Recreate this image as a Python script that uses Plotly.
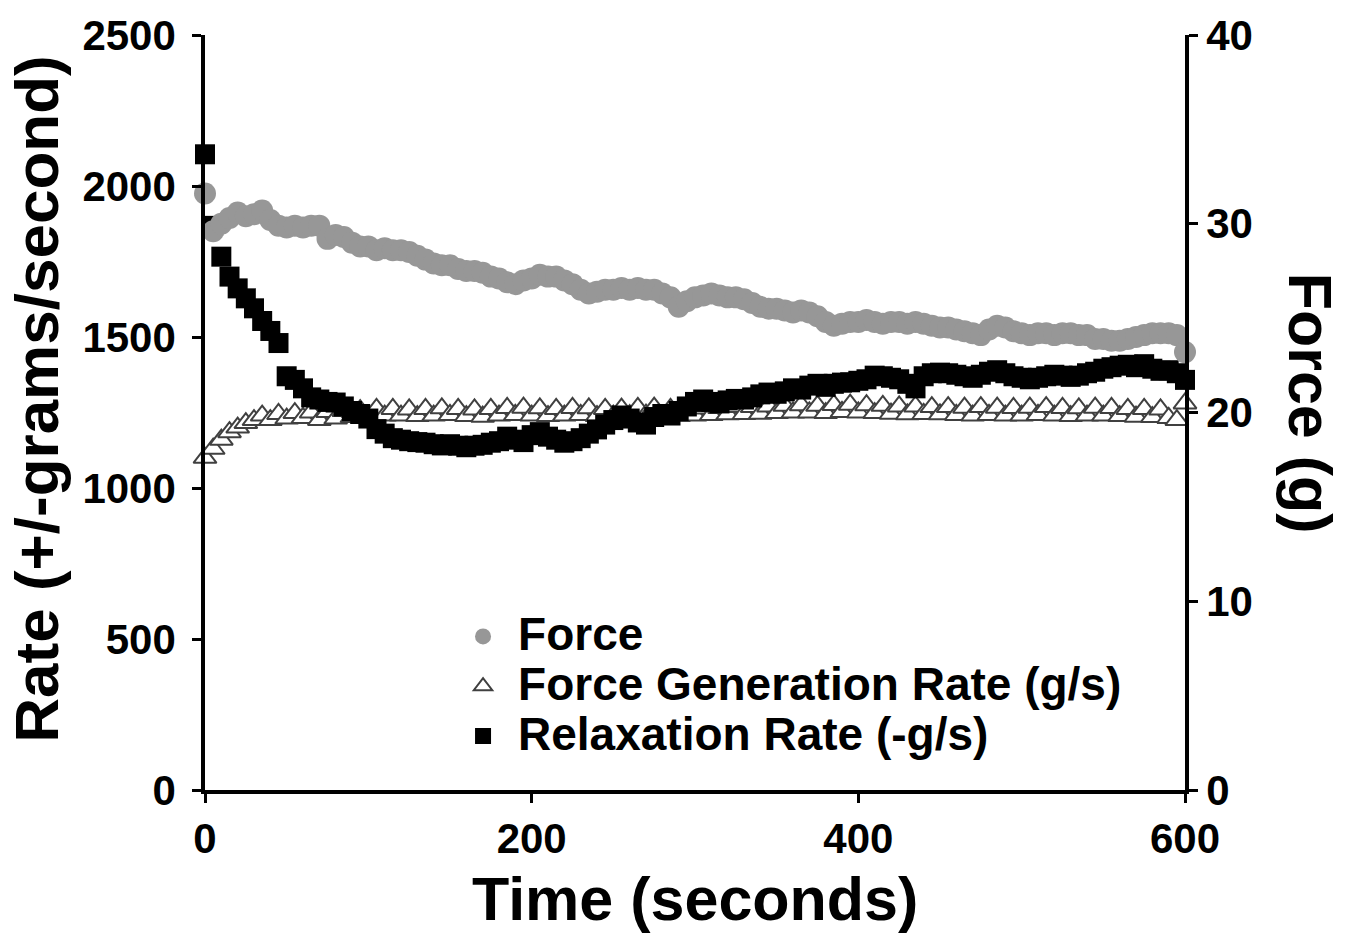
import plotly.graph_objects as go

# ---------------- data ----------------
time_s = list(range(0, 601, 5))

force_g = [
    31.6, 29.6, 30.0, 30.3, 30.6, 30.4, 30.5, 30.7, 30.2, 29.9,
    29.8, 29.9, 29.8, 29.9, 29.9, 29.2, 29.4, 29.3, 29.0, 28.8,
    28.8, 28.6, 28.7, 28.6, 28.6, 28.5, 28.3, 28.1, 27.9, 27.8,
    27.8, 27.6, 27.5, 27.5, 27.4, 27.2, 27.1, 26.9, 26.8, 27.0,
    27.1, 27.3, 27.2, 27.2, 27.0, 26.8, 26.5, 26.3, 26.4, 26.5,
    26.5, 26.6, 26.5, 26.6, 26.5, 26.5, 26.3, 26.1, 25.6, 25.9,
    26.1, 26.2, 26.3, 26.2, 26.1, 26.1, 26.0, 25.8, 25.6, 25.5,
    25.5, 25.4, 25.3, 25.4, 25.3, 25.1, 24.8, 24.6, 24.7, 24.8,
    24.8, 24.9, 24.8, 24.7, 24.8, 24.8, 24.7, 24.8, 24.7, 24.6,
    24.5, 24.5, 24.4, 24.3, 24.2, 24.1, 24.4, 24.6, 24.5, 24.3,
    24.2, 24.1, 24.2, 24.2, 24.1, 24.2, 24.2, 24.1, 24.1, 23.9,
    23.9, 23.8, 23.8, 23.9, 24.0, 24.1, 24.2, 24.2, 24.2, 24.1,
    23.2,
]

force_gen_rate = [
    1100, 1130, 1160, 1185, 1200, 1215, 1225, 1240, 1225, 1245,
    1230, 1248, 1232, 1250, 1225, 1252, 1230, 1255, 1235, 1258,
    1238, 1262, 1240, 1262, 1240, 1260, 1238, 1262, 1240, 1264,
    1242, 1262, 1238, 1260, 1236, 1262, 1240, 1265, 1242, 1266,
    1240, 1264, 1238, 1262, 1240, 1265, 1242, 1264, 1238, 1262,
    1240, 1263, 1241, 1265, 1243, 1266, 1240, 1262, 1238, 1260,
    1240, 1263, 1242, 1265, 1244, 1268, 1245, 1268, 1246, 1270,
    1248, 1272, 1250, 1274, 1250, 1272, 1248, 1275, 1252, 1276,
    1250, 1274, 1248, 1272, 1246, 1270, 1244, 1270, 1245, 1268,
    1244, 1268, 1242, 1266, 1240, 1268, 1242, 1266, 1240, 1265,
    1240, 1266, 1242, 1268, 1240, 1265, 1238, 1264, 1240, 1266,
    1240, 1265, 1238, 1262, 1236, 1262, 1235, 1260, 1232, 1225,
    1280,
]

relaxation_rate = [
    2105, 1868, 1766, 1700, 1661, 1628, 1595, 1553, 1520, 1480,
    1370, 1358, 1330, 1300, 1293, 1285, 1283, 1270, 1255, 1245,
    1230, 1195, 1180, 1165, 1160, 1155, 1152, 1150, 1145, 1141,
    1145, 1140, 1135, 1140, 1143, 1150, 1155, 1170, 1160, 1152,
    1175, 1185, 1170, 1160, 1150, 1155, 1165, 1180, 1194, 1210,
    1225, 1240, 1230, 1217, 1210, 1235, 1245, 1240, 1255, 1270,
    1285, 1293, 1285, 1280, 1290, 1295, 1293, 1300, 1310, 1316,
    1312, 1320, 1330, 1326, 1339, 1345, 1335, 1345, 1349, 1350,
    1355, 1360, 1372, 1370, 1365, 1360, 1345, 1330, 1370, 1380,
    1382, 1380, 1375, 1370, 1365, 1375, 1385, 1390, 1380, 1370,
    1365, 1360, 1365, 1370, 1375, 1372, 1368, 1372, 1380, 1385,
    1395, 1400, 1405, 1408, 1400, 1410, 1395, 1388, 1390, 1380,
    1358,
]

series_names = ["Force", "Force Generation Rate (g/s)", "Relaxation Rate (-g/s)"]
x_ticks = [0, 200, 400, 600]
rate_ticks = [0, 500, 1000, 1500, 2000, 2500]
force_ticks = [0, 10, 20, 30, 40]

# ---------------- figure ----------------
FONT = "Liberation Sans, Arial, Helvetica, sans-serif"
LEGEND_TEXT_PX = 46


def legend_label(name):
    return f'<span style="font-size:{LEGEND_TEXT_PX}px">{name}</span>'


fig = go.Figure()

fig.add_trace(go.Scatter(
    x=time_s, y=force_g, name=legend_label(series_names[0]), mode="markers", yaxis="y2",
    cliponaxis=False,
    marker=dict(symbol="circle", size=22, color="#979797"),
))
fig.add_trace(go.Scatter(
    x=time_s, y=force_gen_rate, name=legend_label(series_names[1]), mode="markers",
    cliponaxis=False,
    marker=dict(symbol="triangle-up", size=20, color="white",
                line=dict(color="#404040", width=2)),
))
fig.add_trace(go.Scatter(
    x=time_s, y=relaxation_rate, name=legend_label(series_names[2]), mode="markers",
    cliponaxis=False,
    marker=dict(symbol="square", size=20, color="black"),
))

axis_common = dict(
    showgrid=False, zeroline=False, showline=True, linecolor="black", linewidth=3.5,
    ticks="outside", ticklen=9, tickwidth=3, tickcolor="black",
    tickfont=dict(family=FONT, size=42, color="black", weight="bold"),
)

fig.update_layout(
    width=1353, height=942,
    margin=dict(l=205, r=168, t=30, b=152),
    paper_bgcolor="white", plot_bgcolor="white",
    xaxis=dict(range=[0, 600], tickvals=x_ticks, **axis_common),
    yaxis=dict(range=[0, 2500], tickvals=rate_ticks, ticklabelstandoff=8, **axis_common),
    yaxis2=dict(range=[0, 40], tickvals=force_ticks, overlaying="y", side="right",
                anchor="x", **axis_common),
    showlegend=True,
    legend=dict(
        x=0.248, y=0.243, xanchor="left", yanchor="top",
        bgcolor="rgba(0,0,0,0)", borderwidth=0, tracegroupgap=0,
        itemwidth=60,
        font=dict(family=FONT, size=36, color="black", weight="bold"),
    ),
    annotations=[
        dict(text="Time (seconds)", x=0.5, y=-0.145, xref="paper", yref="paper",
             xanchor="center", yanchor="middle", showarrow=False,
             font=dict(family=FONT, size=61, color="black", weight="bold")),
        dict(text="Rate (+/-grams/second)", x=-0.1714, y=0.517, xref="paper", yref="paper",
             xanchor="center", yanchor="middle", showarrow=False, textangle=-90,
             font=dict(family=FONT, size=62, color="black", weight="bold")),
        dict(text="Force (g)", x=1.1276, y=0.513, xref="paper", yref="paper",
             xanchor="center", yanchor="middle", showarrow=False, textangle=90,
             font=dict(family=FONT, size=61, color="black", weight="bold")),
    ],
)

fig.write_html("out.html")
